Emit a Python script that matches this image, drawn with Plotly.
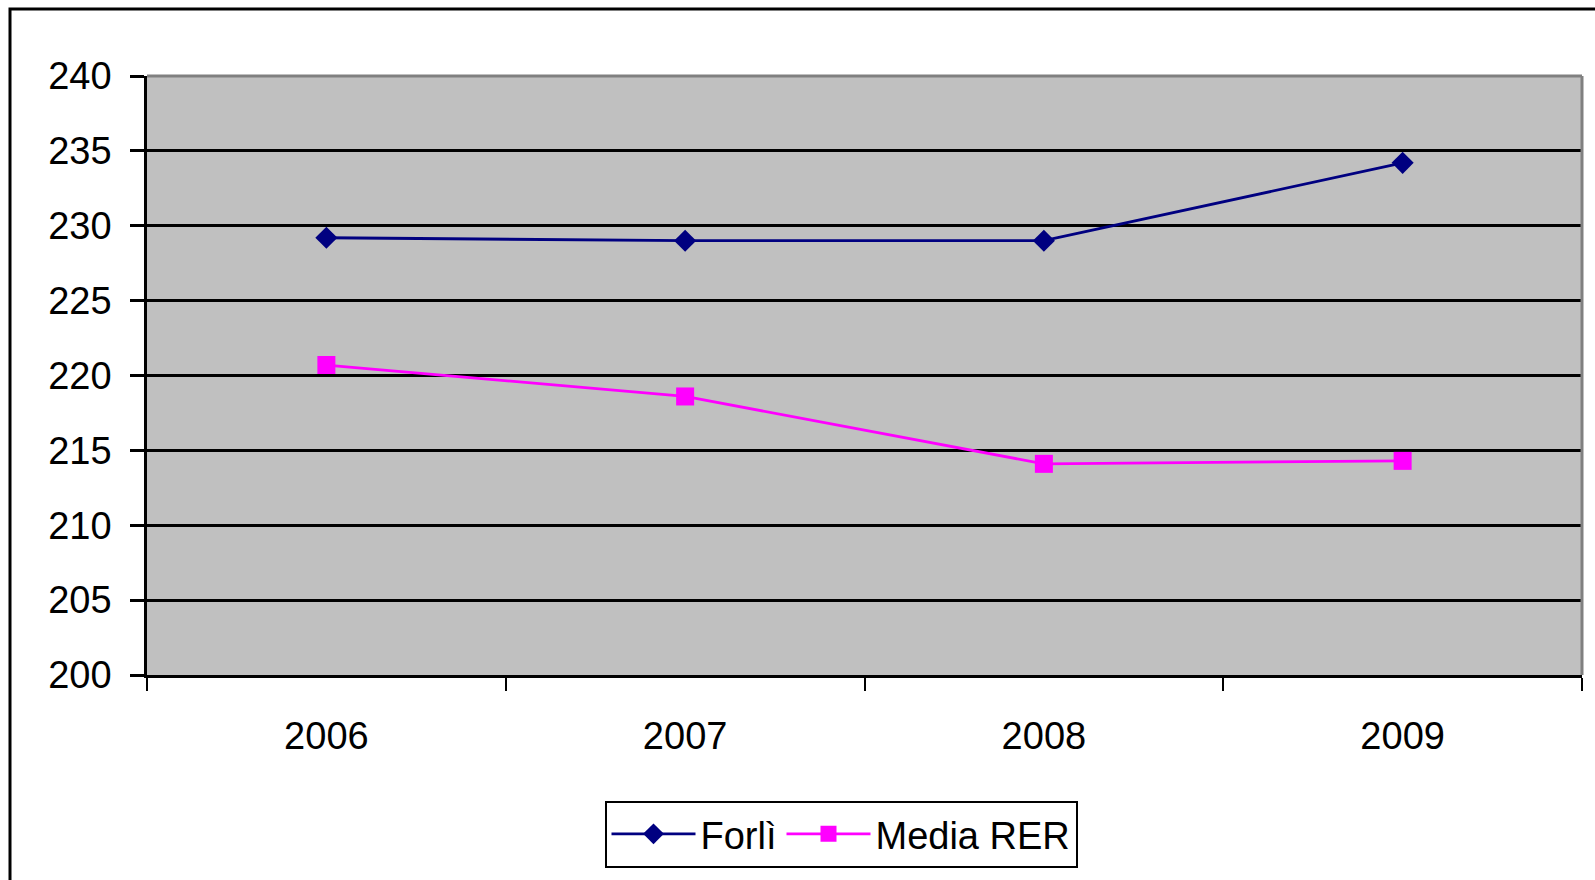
import plotly.graph_objects as go

# Data
years = ["2006", "2007", "2008", "2009"]
forli = [229.2, 229.0, 229.0, 234.2]
media_rer = [220.7, 218.6, 214.1, 214.3]
y_ticks = [200, 205, 210, 215, 220, 225, 230, 235, 240]

FONT = "Arial, Liberation Sans, sans-serif"
W, H = 1595, 880
L, R, T, B = 147, 13, 76, 203  # plot-area margins in px
pw, ph = W - L - R, H - T - B


def px_to_paper_x(px):
    return (px - L) / pw


def px_to_paper_y(py):
    return (H - B - py) / ph


fig = go.Figure()
fig.add_trace(go.Scatter(
    x=years, y=forli, name="Forlì", mode="lines+markers",
    line=dict(color="#000080", width=2.8),
    marker=dict(symbol="diamond", size=17, color="#000080", line=dict(width=0)),
))
fig.add_trace(go.Scatter(
    x=years, y=media_rer, name="Media RER", mode="lines+markers",
    line=dict(color="#FF00FF", width=2.8),
    marker=dict(symbol="square", size=18, color="#FF00FF", line=dict(width=0)),
))

shapes = [
    # grey border on top and right of the plot area
    dict(type="line", xref="paper", yref="paper", x0=0, x1=1, y0=1, y1=1,
         line=dict(color="#808080", width=3), layer="above"),
    dict(type="line", xref="paper", yref="paper", x0=1, x1=1, y0=0, y1=1,
         line=dict(color="#808080", width=3), layer="above"),
    # outer chart frame
    dict(type="rect", xref="paper", yref="paper",
         x0=px_to_paper_x(10), x1=px_to_paper_x(1640),
         y0=px_to_paper_y(930), y1=px_to_paper_y(8.7),
         line=dict(color="black", width=3), fillcolor="rgba(0,0,0,0)", layer="below"),
]

fig.update_layout(
    width=W, height=H,
    margin=dict(l=L, r=R, t=T, b=B, pad=0),
    paper_bgcolor="white",
    plot_bgcolor="#C0C0C0",
    font=dict(family=FONT, size=38, color="black"),
    showlegend=True,
    legend=dict(
        orientation="h",
        x=px_to_paper_x(841), y=px_to_paper_y(803),
        xanchor="center", yanchor="top",
        bgcolor="white", bordercolor="black", borderwidth=2,
        font=dict(family=FONT, size=38, color="black"),
        itemwidth=84,
    ),
    shapes=shapes,
    xaxis=dict(
        type="category", range=[-0.5, 3.5],
        showgrid=False, zeroline=False,
        showline=True, linecolor="black", linewidth=3,
        ticks="outside", tickson="boundaries", ticklen=13, tickwidth=2, tickcolor="black",
        tickfont=dict(family=FONT, size=38, color="black"),
        ticklabelstandoff=25,
    ),
    yaxis=dict(
        range=[200, 240], tickvals=y_ticks,
        showgrid=True, gridcolor="black", gridwidth=3,
        zeroline=False,
        showline=True, linecolor="black", linewidth=2.5,
        ticks="outside", ticklen=14, tickwidth=3, tickcolor="black",
        tickfont=dict(family=FONT, size=38, color="black"),
        ticklabelstandoff=11,
    ),
)

fig.write_html("out.html")
